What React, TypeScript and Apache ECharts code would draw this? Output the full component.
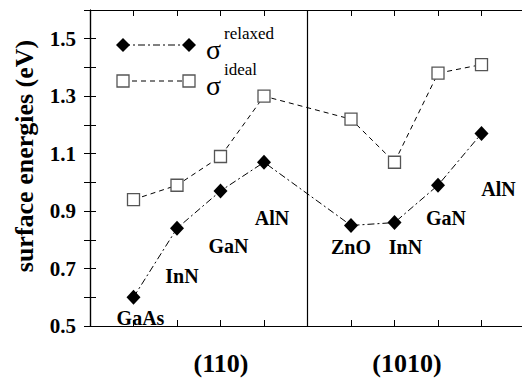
import React, { useEffect, useRef } from "react";
import * as echarts from "echarts";

const positions = [1, 2, 3, 4, 6, 7, 8, 9];
const compounds = ["GaAs", "InN", "GaN", "AlN", "ZnO", "InN", "GaN", "AlN"];
const relaxed = [0.6, 0.84, 0.97, 1.07, 0.85, 0.86, 0.99, 1.17];
const ideal = [0.94, 0.99, 1.09, 1.3, 1.22, 1.07, 1.38, 1.41];
const facets = ["(110)", "(1010)"];
const yTitle = "surface energies (eV)";

// label offsets (styling only)
const labelOffsets: [number, number][] = [
  [7, 21],
  [5, 48],
  [8, 55],
  [8, 56],
  [0, 22],
  [11, 24],
  [8, 33],
  [17, 55],
];

const FONT = "'Liberation Serif', 'Times New Roman', Times, serif";

export default function App() {
  const ref = useRef<HTMLDivElement>(null);
  useEffect(() => {
    document.body.style.margin = "0";
    if (!ref.current) return;
    const chart = echarts.init(ref.current, null, { renderer: "svg" });
    const axisLine = { show: true, lineStyle: { color: "#000", width: 1.2 } };
    const tick = { show: true, inside: true, length: 6, lineStyle: { color: "#000", width: 1 } };
    const dashDot = [7, 3, 2, 3];
    const dash = [5, 4];

    const option: any = {
      animation: false,
      backgroundColor: "#fff",
      textStyle: { fontFamily: FONT },
      grid: {
        left: 90,
        top: 10,
        width: 435,
        height: 316,
        outerBoundsMode: "none",
        containLabel: false,
      },
      xAxis: [
        {
          type: "value",
          min: 0,
          max: 10,
          interval: 1,
          position: "bottom",
          axisLine,
          axisTick: tick,
          axisLabel: { show: false },
          splitLine: { show: false },
        },
        {
          type: "value",
          min: 0,
          max: 10,
          interval: 1,
          position: "top",
          axisLine,
          axisTick: tick,
          axisLabel: { show: false },
          splitLine: { show: false },
        },
      ],
      yAxis: [
        {
          type: "value",
          min: 0.5,
          max: 1.6,
          interval: 0.1,
          position: "left",
          axisLine,
          axisTick: tick,
          splitLine: { show: false },
          axisLabel: {
            margin: 14,
            color: "#000",
            fontFamily: FONT,
            fontWeight: "bold",
            fontSize: 21,
            formatter: (v: number) => {
              const k = Math.round(v * 10);
              return k % 2 === 1 && k <= 15 ? v.toFixed(1) : "";
            },
          },
        },
        {
          type: "value",
          min: 0.5,
          max: 1.6,
          interval: 0.1,
          position: "right",
          axisLine,
          axisTick: tick,
          axisLabel: { show: false },
          splitLine: { show: false },
        },
      ],
      series: [
        {
          name: "ideal",
          type: "line",
          data: positions.map((x, i) => [x, ideal[i]]),
          symbol: "rect",
          symbolSize: 12,
          lineStyle: { color: "#000", width: 1, type: dash },
          itemStyle: { color: "#fff", borderColor: "#555", borderWidth: 1.3 },
          markLine: {
            silent: true,
            symbol: "none",
            label: { show: false },
            lineStyle: { color: "#000", width: 1.2, type: "solid" },
            data: [{ xAxis: 5 }],
          },
          z: 2,
        },
        {
          name: "relaxed",
          type: "line",
          data: positions.map((x, i) => ({
            value: [x, relaxed[i]],
            label: {
              show: true,
              formatter: compounds[i],
              position: "inside",
              offset: labelOffsets[i],
            },
          })),
          symbol: "diamond",
          symbolSize: [14, 15],
          lineStyle: { color: "#000", width: 1, type: dashDot },
          itemStyle: { color: "#000" },
          label: {
            color: "#000",
            fontFamily: FONT,
            fontWeight: "bold",
            fontSize: 20,
          },
          z: 3,
        },
      ],
      graphic: [
        {
          type: "text",
          x: 24,
          y: 156,
          rotation: Math.PI / 2,
          style: {
            text: yTitle,
            fontFamily: FONT,
            fontWeight: "bold",
            fontSize: 26,
            fill: "#000",
            align: "center",
            verticalAlign: "middle",
          },
        },
        {
          type: "text",
          x: 221,
          y: 363,
          style: {
            text: facets[0],
            fontFamily: FONT,
            fontWeight: "bold",
            fontSize: 26,
            fill: "#000",
            align: "center",
            verticalAlign: "middle",
          },
        },
        {
          type: "text",
          x: 407,
          y: 363,
          style: {
            text: facets[1],
            fontFamily: FONT,
            fontWeight: "bold",
            fontSize: 26,
            fill: "#000",
            align: "center",
            verticalAlign: "middle",
          },
        },
        {
          type: "line",
          shape: { x1: 123, y1: 45, x2: 189, y2: 45 },
          style: { stroke: "#000", lineWidth: 1, lineDash: dashDot },
        },
        {
          type: "polygon",
          shape: { points: [[123, 38], [130, 45], [123, 52], [116, 45]] },
          style: { fill: "#000" },
        },
        {
          type: "polygon",
          shape: { points: [[189, 38], [196, 45], [189, 52], [182, 45]] },
          style: { fill: "#000" },
        },
        {
          type: "text",
          x: 206,
          y: 49,
          style: {
            text: "σ",
            fontFamily: FONT,
            fontSize: 28,
            fill: "#000",
            verticalAlign: "middle",
          },
        },
        {
          type: "text",
          x: 224,
          y: 33,
          style: {
            text: "relaxed",
            fontFamily: FONT,
            fontSize: 17,
            fill: "#000",
            verticalAlign: "middle",
          },
        },
        {
          type: "line",
          shape: { x1: 123, y1: 81, x2: 189, y2: 81 },
          style: { stroke: "#000", lineWidth: 1, lineDash: dash },
        },
        {
          type: "rect",
          shape: { x: 117, y: 75, width: 12, height: 12 },
          style: { fill: "#fff", stroke: "#555", lineWidth: 1.3 },
        },
        {
          type: "rect",
          shape: { x: 183, y: 75, width: 12, height: 12 },
          style: { fill: "#fff", stroke: "#555", lineWidth: 1.3 },
        },
        {
          type: "text",
          x: 206,
          y: 85,
          style: {
            text: "σ",
            fontFamily: FONT,
            fontSize: 28,
            fill: "#000",
            verticalAlign: "middle",
          },
        },
        {
          type: "text",
          x: 224,
          y: 69,
          style: {
            text: "ideal",
            fontFamily: FONT,
            fontSize: 17,
            fill: "#000",
            verticalAlign: "middle",
          },
        },
      ],
    };
    chart.setOption(option);
    return () => chart.dispose();
  }, []);
  return <div ref={ref} style={{ width: 522, height: 379 }} />;
}
